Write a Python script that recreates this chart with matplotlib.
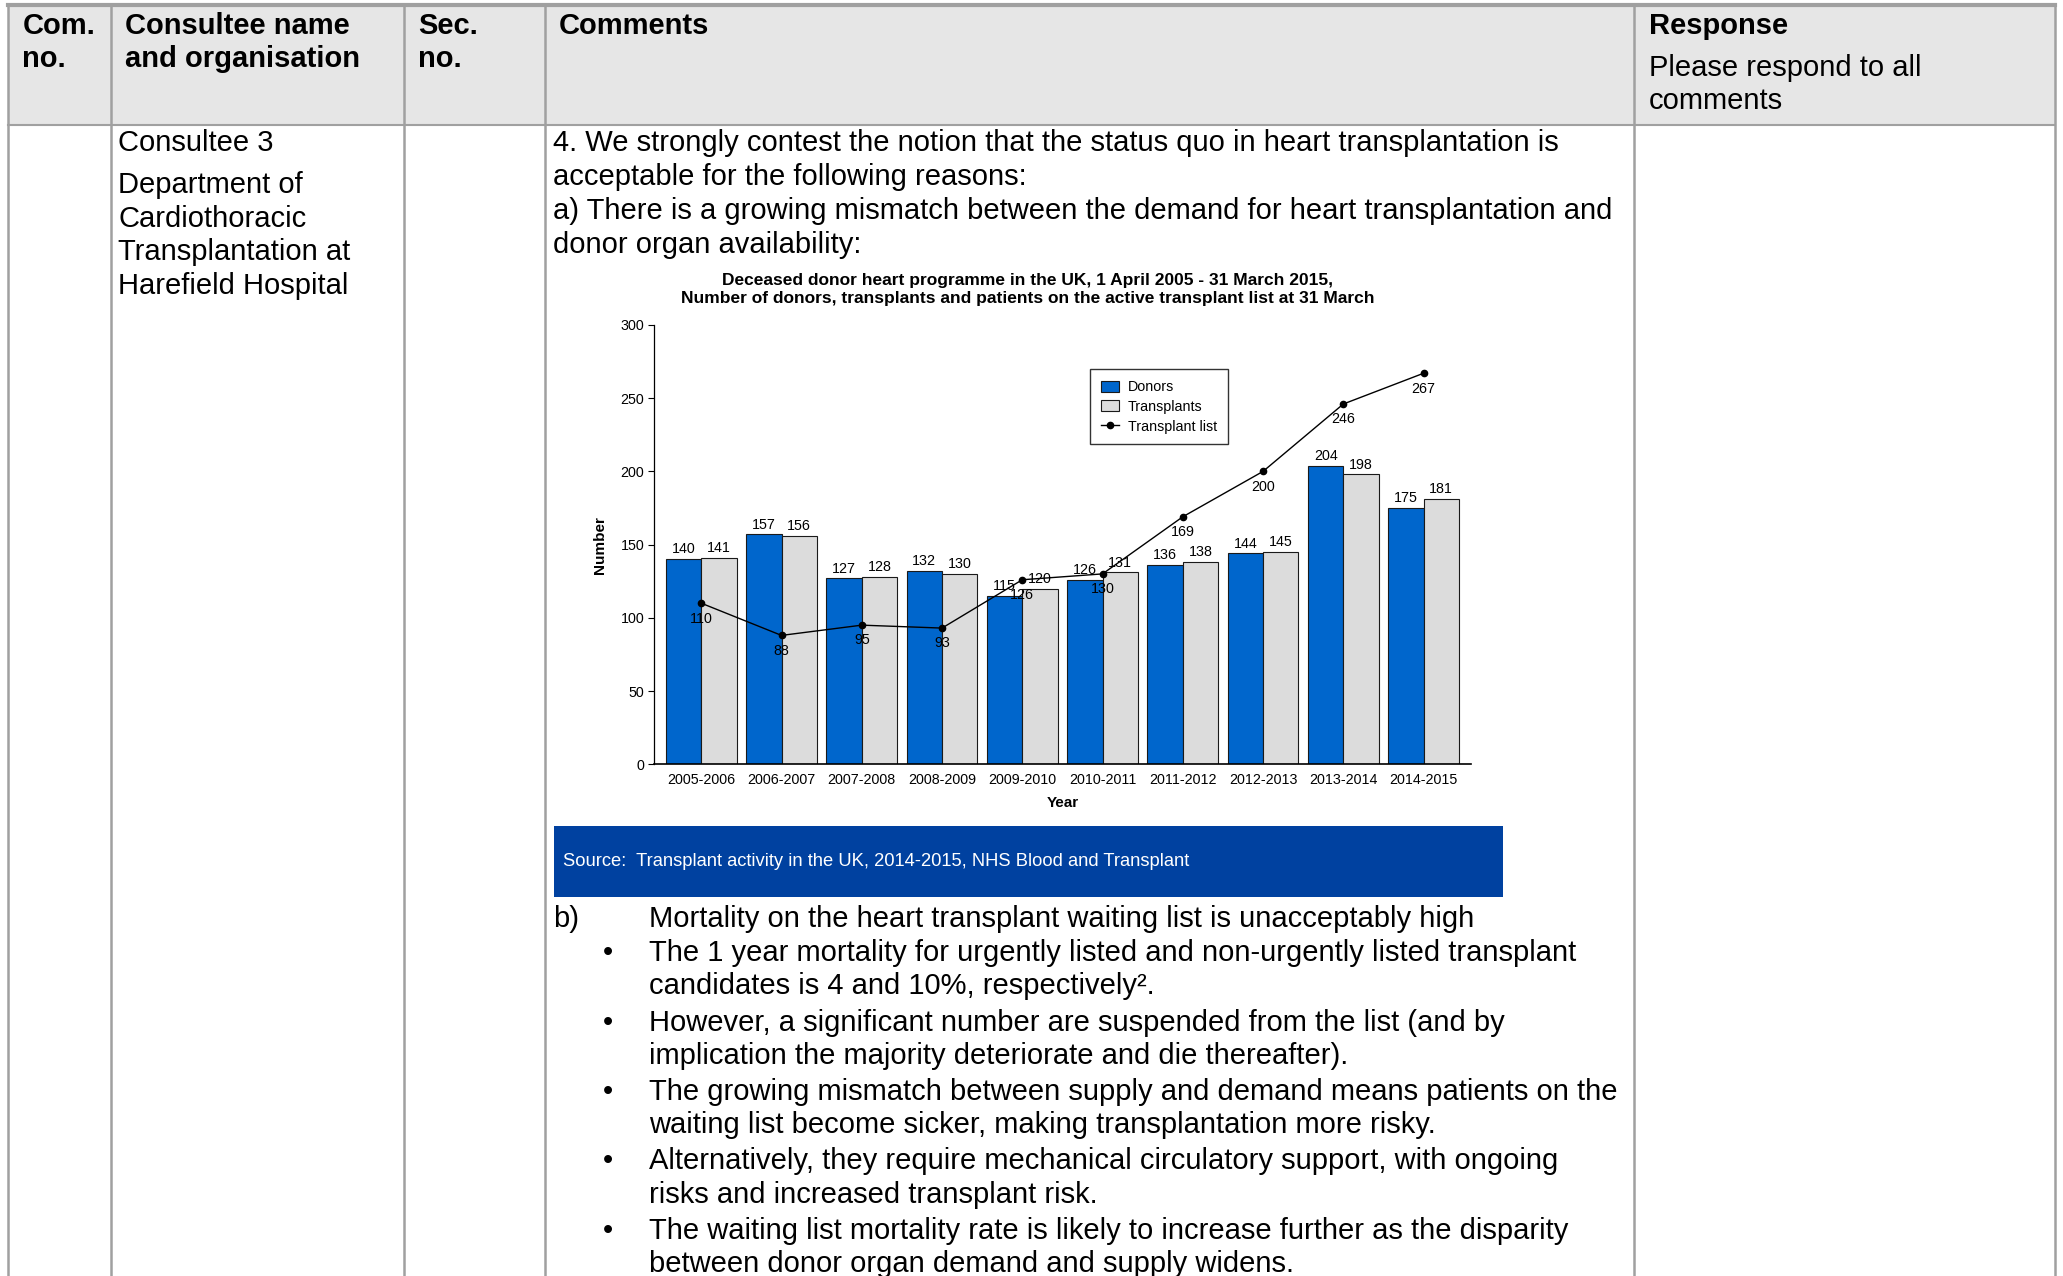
import matplotlib
matplotlib.use("Agg")
import matplotlib.pyplot as plt
from matplotlib.lines import Line2D
from matplotlib.patches import Rectangle, Patch
import numpy as np

plt.rcParams['font.family'] = ['Liberation Sans', 'DejaVu Sans']

# ---------------- data ----------------
years = ['2005-2006', '2006-2007', '2007-2008', '2008-2009', '2009-2010',
         '2010-2011', '2011-2012', '2012-2013', '2013-2014', '2014-2015']
donors = [140, 157, 127, 132, 115, 126, 136, 144, 204, 175]
transplants = [141, 156, 128, 130, 120, 131, 138, 145, 198, 181]
transplant_list = [110, 88, 95, 93, 126, 130, 169, 200, 246, 267]
y_ticks = [0, 50, 100, 150, 200, 250, 300]
legend_labels = ['Donors', 'Transplants', 'Transplant list']
chart_title = ('Deceased donor heart programme in the UK, 1 April 2005 - 31 March 2015,\n'
               'Number of donors, transplants and patients on the active transplant list at 31 March')
source_text = 'Source:  Transplant activity in the UK, 2014-2015, NHS Blood and Transplant'

header_cols = [['Com.', 'no.'], ['Consultee name', 'and organisation'], ['Sec.', 'no.'],
               ['Comments'], ['Response']]
header_sub = ['Please respond to all', 'comments']
consultee_lines = ['Consultee 3']
org_lines = ['Department of', 'Cardiothoracic', 'Transplantation at', 'Harefield Hospital']
comment_lines = ['4. We strongly contest the notion that the status quo in heart transplantation is',
                 'acceptable for the following reasons:',
                 'a) There is a growing mismatch between the demand for heart transplantation and',
                 'donor organ availability:']
b_heading = 'Mortality on the heart transplant waiting list is unacceptably high'
bullets = [
    ['The 1 year mortality for urgently listed and non-urgently listed transplant',
     'candidates is 4 and 10%, respectively\u00b2.'],
    ['However, a significant number are suspended from the list (and by',
     'implication the majority deteriorate and die thereafter).'],
    ['The growing mismatch between supply and demand means patients on the',
     'waiting list become sicker, making transplantation more risky.'],
    ['Alternatively, they require mechanical circulatory support, with ongoing',
     'risks and increased transplant risk.'],
    ['The waiting list mortality rate is likely to increase further as the disparity',
     'between donor organ demand and supply widens.'],
]

# ---------------- figure ----------------
W, H = 1568.0, 970.0
fig = plt.figure(figsize=(20.63, 12.76), dpi=100)

def fx(x):
    return x / W

def fy(y):
    return 1 - y / H

FS = 21
DY = 1.5
grid_col = '#a0a0a0'

# header background
fig.patches.append(Rectangle((fx(6), fy(95)), fx(1562) - fx(6), fy(4) - fy(95),
                             transform=fig.transFigure, facecolor='#e6e6e6',
                             edgecolor='none', zorder=0))
# table lines
for yy, lw in [(4, 3.0), (95, 1.5)]:
    fig.add_artist(Line2D([fx(6), fx(1562)], [fy(yy), fy(yy)], transform=fig.transFigure,
                          color=grid_col, lw=lw))
for xx in [6, 84, 307, 414, 1242, 1562]:
    fig.add_artist(Line2D([fx(xx), fx(xx)], [fy(4), fy(972)], transform=fig.transFigure,
                          color=grid_col, lw=1.8))

# header text
hx = [17, 95, 318, 425, 1253]
for x, lines in zip(hx, header_cols):
    for j, t in enumerate(lines):
        fig.text(fx(x), fy(18 + DY + 25 * j), t, fontsize=FS, fontweight='bold',
                 va='center', ha='left')
for j, t in enumerate(header_sub):
    fig.text(fx(1253), fy(50 + DY + 25 * j), t, fontsize=FS, va='center', ha='left')

# column 2 text
fig.text(fx(90), fy(107 + DY), consultee_lines[0], fontsize=FS, va='center', ha='left')
for i, t in enumerate(org_lines):
    fig.text(fx(90), fy(139 + DY + 25.7 * i), t, fontsize=FS, va='center', ha='left')

# comments
for i, t in enumerate(comment_lines):
    fig.text(fx(420), fy(107 + DY + 26 * i), t, fontsize=FS, va='center', ha='left')

# source box
fig.patches.append(Rectangle((fx(421), fy(682)), fx(1142) - fx(421), fy(628) - fy(682),
                             transform=fig.transFigure, facecolor='#0041a0',
                             edgecolor='none', zorder=1))
fig.text(fx(428), fy(654 + 1), source_text, fontsize=13.2, color='white', va='center', ha='left')

# b) section
fig.text(fx(420), fy(697 + DY), 'b)', fontsize=FS, va='center', ha='left')
fig.text(fx(493), fy(697 + DY), b_heading, fontsize=FS, va='center', ha='left')
yb = 724.5
for lines in bullets:
    fig.text(fx(462), fy(yb), '\u2022', fontsize=FS, va='center', ha='center')
    for j, t in enumerate(lines):
        fig.text(fx(493), fy(yb + 25.3 * j), t, fontsize=FS, va='center', ha='left')
    yb += 52.8

# ---------------- chart ----------------
ax = fig.add_axes([fx(497), fy(581), fx(1118) - fx(497), fy(247) - fy(581)])
x = np.arange(len(years))
bw = 0.44
ax.bar(x - bw / 2, donors, width=bw, color='#0066cc', edgecolor='#1a1a1a', lw=0.8,
       label=legend_labels[0], zorder=2)
ax.bar(x + bw / 2, transplants, width=bw, color='#dcdcdc', edgecolor='#1a1a1a', lw=0.8,
       label=legend_labels[1], zorder=2)
ax.plot(x, transplant_list, color='black', lw=1.0, marker='o', markersize=4.5,
        label=legend_labels[2], zorder=4)

lab_fs = 10.3
for xi, v in zip(x, donors):
    ax.annotate(str(v), (xi - bw / 2, v), xytext=(0, 2), textcoords='offset points',
                ha='center', va='bottom', fontsize=lab_fs, zorder=5)
for xi, v in zip(x, transplants):
    ax.annotate(str(v), (xi + bw / 2, v), xytext=(0, 2), textcoords='offset points',
                ha='center', va='bottom', fontsize=lab_fs, zorder=5)
for xi, v in zip(x, transplant_list):
    ax.annotate(str(v), (xi, v), xytext=(0, -6), textcoords='offset points',
                ha='center', va='top', fontsize=lab_fs, zorder=5)

ax.set_xlim(-0.59, len(years) - 1 + 0.59)
ax.set_ylim(0, 300)
ax.set_yticks(y_ticks)
ax.set_xticks(x)
ax.set_xticklabels(years)
ax.tick_params(axis='x', length=0, labelsize=lab_fs, pad=6)
ax.tick_params(axis='y', length=4, width=0.8, labelsize=lab_fs, pad=3)
for s in ['top', 'right']:
    ax.spines[s].set_visible(False)
ax.spines['left'].set_linewidth(0.9)
ax.spines['bottom'].set_linewidth(1.2)
ax.set_xlabel('Year', fontsize=11, fontweight='bold', labelpad=7)
ax.set_ylabel('Number', fontsize=11, fontweight='bold', labelpad=10)
ax.set_facecolor('none')

handles = [Patch(facecolor='#0066cc', edgecolor='#1a1a1a', lw=0.8),
           Patch(facecolor='#dcdcdc', edgecolor='#1a1a1a', lw=0.8),
           Line2D([0], [0], color='black', lw=1.0, marker='o', markersize=4.5)]
leg = ax.legend(handles, legend_labels, loc='upper left', bbox_to_anchor=(0.525, 0.915),
                fontsize=10.3, frameon=True, fancybox=False, shadow=False,
                handlelength=1.3, handleheight=0.8, borderpad=0.75, labelspacing=0.4,
                handletextpad=0.6)
leg.get_frame().set_edgecolor('black')
leg.get_frame().set_linewidth(1.0)

fig.text(fx(781), fy(220), chart_title, fontsize=12.5, fontweight='bold',
         ha='center', va='center', linespacing=1.3)

fig.savefig('out.png', dpi=100)
